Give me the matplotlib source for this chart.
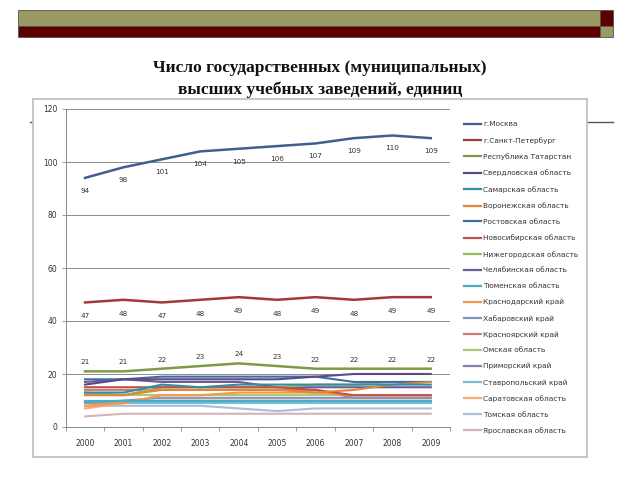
import matplotlib
matplotlib.use("Agg")
import matplotlib.pyplot as plt
from matplotlib.patches import Rectangle
from matplotlib.lines import Line2D

# --- data ---
years = ["2000", "2001", "2002", "2003", "2004", "2005", "2006", "2007", "2008", "2009"]

moscow = [94, 98, 101, 104, 105, 106, 107, 109, 110, 109]
spb = [47, 48, 47, 48, 49, 48, 49, 48, 49, 49]
tatarstan = [21, 21, 22, 23, 24, 23, 22, 22, 22, 22]
sverdlovsk = [16, 18, 18, 18, 18, 18, 19, 20, 20, 20]
samara = [13, 13, 16, 15, 16, 16, 16, 16, 16, 16]
voronezh = [12, 12, 14, 14, 14, 14, 13, 14, 16, 17]
rostov = [18, 18, 19, 19, 19, 19, 19, 17, 17, 17]
novosibirsk = [15, 15, 15, 15, 15, 15, 14, 12, 12, 12]
nizhny = [13, 12, 15, 15, 15, 15, 16, 16, 17, 17]
chelyabinsk = [17, 18, 17, 17, 17, 15, 15, 15, 15, 15]
tyumen = [10, 10, 10, 10, 10, 10, 10, 10, 10, 10]
krasnodar = [8, 9, 12, 12, 13, 13, 13, 12, 12, 12]
khabarovsk = [9, 10, 11, 11, 11, 11, 11, 11, 11, 11]
krasnoyarsk = [14, 14, 14, 14, 14, 14, 14, 11, 11, 11]
omsk = [12, 12, 12, 12, 12, 12, 12, 12, 12, 12]
primorsky = [10, 10, 10, 10, 10, 10, 10, 10, 10, 10]
stavropol = [9, 9, 9, 9, 9, 9, 9, 9, 9, 9]
saratov = [7, 9, 10, 10, 10, 10, 10, 10, 10, 10]
tomsk = [8, 8, 8, 8, 7, 6, 7, 7, 7, 7]
yaroslavl = [4, 5, 5, 5, 5, 5, 5, 5, 5, 5]

region_names = [
    "г.Москва", "г.Санкт-Петербург", "Республика Татарстан", "Свердловская область",
    "Самарская область", "Воронежская область", "Ростовская область",
    "Новосибирская область", "Нижегородская область", "Челябинская область",
    "Тюменская область", "Краснодарский край", "Хабаровский край", "Красноярский край",
    "Омская область", "Приморский край", "Ставропольский край", "Саратовская область",
    "Томская область", "Ярославская область",
]
region_values = [
    moscow, spb, tatarstan, sverdlovsk, samara, voronezh, rostov, novosibirsk,
    nizhny, chelyabinsk, tyumen, krasnodar, khabarovsk, krasnoyarsk, omsk,
    primorsky, stavropol, saratov, tomsk, yaroslavl,
]
region_colors = [
    "#3F5F90", "#A4393A", "#7F9A48", "#5B4A84", "#31909F", "#E0873A", "#3F6DAA",
    "#C0504D", "#9BBB59", "#6E5A96", "#4BACC6", "#F79646", "#7C98C2", "#CD7C7A",
    "#AFC97A", "#8F7CAE", "#78C0D4", "#F9AB6E", "#A9BDDC", "#D6B3B2",
]
labelled = {0: -13, 1: -14, 2: 9}  # series index -> label offset in px

W, H = 640, 480
fig = plt.figure(figsize=(W / 100, H / 100), dpi=100)


def box(x0, y0, x1, y1):
    # pixel box (top-left origin) -> figure fraction rect
    return [x0 / W, 1 - y1 / H, (x1 - x0) / W, (y1 - y0) / H]


# slide decoration: top bar
deco = fig.add_axes([0, 0, 1, 1])
deco.set_xlim(0, W)
deco.set_ylim(H, 0)
deco.axis("off")
deco.add_patch(Rectangle((18, 10), 582, 16, fc="#9A9B63", ec="#555555", lw=0.6))
deco.add_patch(Rectangle((18, 26), 582, 11, fc="#5E0000", ec="#555555", lw=0.6))
deco.add_patch(Rectangle((600, 10), 13, 16, fc="#5E0000", ec="#555555", lw=0.6))
deco.add_patch(Rectangle((600, 26), 13, 11, fc="#9A9B63", ec="#555555", lw=0.6))
deco.plot([30, 613], [122, 122], color="#555555", lw=1.0)

fig.text(0.5, 1 - 68 / H, "Число государственных (муниципальных)", ha="center", va="center",
         fontsize=12.5, fontweight="bold", family="Liberation Serif", color="#111111")
fig.text(0.5, 1 - 90 / H, "высших учебных заведений, единиц", ha="center", va="center",
         fontsize=12.5, fontweight="bold", family="Liberation Serif", color="#111111")

# chart picture frame
frame = fig.add_axes(box(33, 99, 587, 457))
frame.set_xticks([])
frame.set_yticks([])
frame.set_facecolor("white")
for s in frame.spines.values():
    s.set_color("#BFBFBF")
    s.set_linewidth(1.2)

ax = fig.add_axes(box(65.8, 109, 450, 427))
ax.set_facecolor("none")
x = list(range(len(years)))
handles = []
for i, (name, vals, col) in enumerate(zip(region_names, region_values, region_colors)):
    lw = 1.8 if i < 3 else 1.5
    ax.plot(x, vals, color=col, lw=lw, solid_joinstyle="round", zorder=10 - i * 0.1)
    handles.append(Line2D([], [], color=col, lw=1.6))
    if i in labelled:
        for xi, v in zip(x, vals):
            ax.annotate(str(v), (xi, v), xytext=(0, labelled[i] * 0.72), textcoords="offset points",
                        ha="center", va="center", fontsize=5.2, color="#333333")

ax.set_xlim(-0.5, len(years) - 0.5)
ax.set_ylim(0, 120)
ax.set_yticks(range(0, 121, 20))
ax.tick_params(axis="y", length=3, width=0.6, color="#888888", pad=3, labelsize=5.5,
               labelcolor="#333333")
ax.set_xticks([i - 0.5 for i in range(len(years) + 1)])
ax.set_xticklabels([])
ax.tick_params(axis="x", which="major", length=3, width=0.6, color="#888888")
ax.set_xticks(x, minor=True)
ax.set_xticklabels(years, minor=True)
ax.tick_params(axis="x", which="minor", length=0, pad=9, labelsize=5.5, labelcolor="#333333")
ax.grid(axis="y", color="#8C8C8C", lw=0.7)
ax.set_axisbelow(True)
for side in ("top", "right"):
    ax.spines[side].set_visible(False)
for side in ("left", "bottom"):
    ax.spines[side].set_color("#888888")
    ax.spines[side].set_linewidth(0.7)

leg = fig.legend(handles, region_names, loc="upper left",
                 bbox_to_anchor=(464 / W, 1 - 121 / H), frameon=False,
                 fontsize=5.3, handlelength=2.3, handletextpad=0.3, labelspacing=1.3,
                 borderaxespad=0, borderpad=0)
for t in leg.get_texts():
    t.set_color("#333333")

fig.savefig("out.png", dpi=100)
